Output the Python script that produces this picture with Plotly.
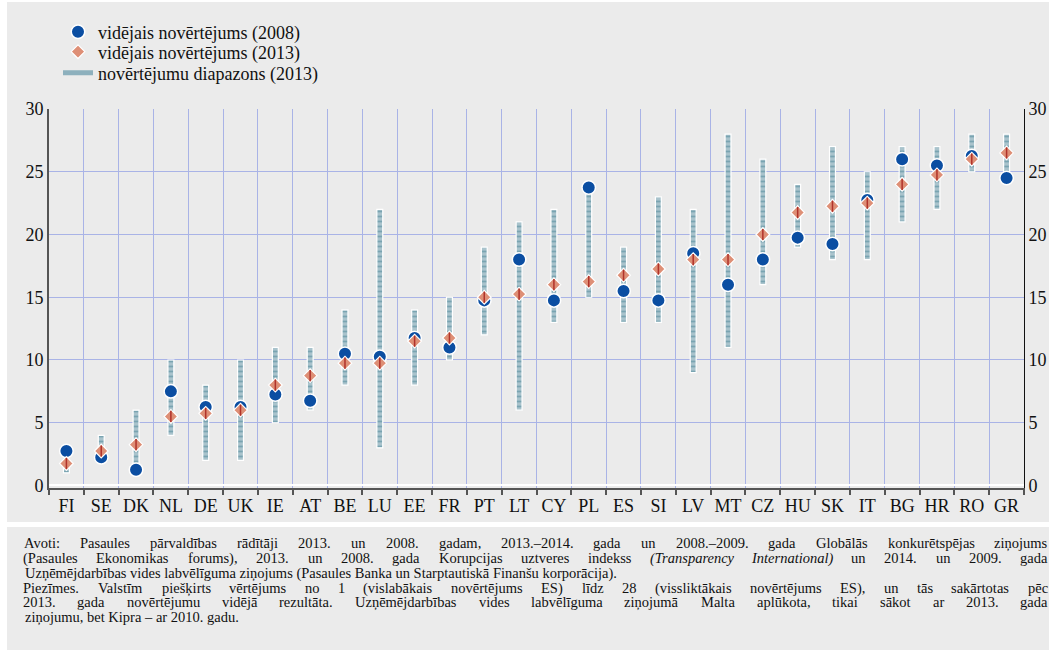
import re
import unicodedata
import plotly.graph_objects as go

countries = ["FI", "SE", "DK", "NL", "DE", "UK", "IE", "AT", "BE", "LU", "EE", "FR", "PT", "LT",
             "CY", "PL", "ES", "SI", "LV", "MT", "CZ", "HU", "SK", "IT", "BG", "HR", "RO", "GR"]
avg_2008 = [2.75, 2.25, 1.25, 7.5, 6.25, 6.25, 7.25, 6.75, 10.5, 10.25, 11.75, 11.0, 14.75, 18.0,
            14.75, 23.75, 15.5, 14.75, 18.5, 16.0, 18.0, 19.75, 19.25, 22.75, 26.0, 25.5, 26.25, 24.5]
avg_2013 = [1.75, 2.75, 3.25, 5.5, 5.75, 6.0, 8.0, 8.75, 9.75, 9.75, 11.5, 11.75, 15.0, 15.25,
            16.0, 16.25, 16.75, 17.25, 18.0, 18.0, 20.0, 21.75, 22.25, 22.5, 24.0, 24.75, 26.0, 26.5]
range_min = [1, 2, 1, 4, 2, 2, 5, 6, 8, 3, 8, 10, 12, 6,
             13, 15, 13, 13, 9, 11, 16, 19, 18, 18, 21, 22, 25, 25]
range_max = [2, 4, 6, 10, 8, 10, 11, 11, 14, 22, 14, 15, 19, 21,
             22, 24, 19, 23, 22, 28, 26, 24, 27, 25, 27, 27, 28, 28]
y_ticks = [0, 5, 10, 15, 20, 25, 30]

name_2008 = "vidējais novērtējums (2008)"
name_2013 = "vidējais novērtējums (2013)"
name_range = "novērtējumu diapazons (2013)"

footer_lines = [
    "Avoti: Pasaules pārvaldības rādītāji 2013. un 2008. gadam, 2013.–2014. gada  un 2008.–2009. gada Globālās konkurētspējas ziņojums",
    "(Pasaules Ekonomikas forums), 2013. un 2008. gada Korupcijas uztveres indekss <i>(Transparency International)</i> un 2014. un 2009. gada",
    "Uzņēmējdarbības vides labvēlīguma ziņojums (Pasaules Banka un Starptautiskā Finanšu korporācija).",
    "Piezīmes. Valstīm piešķirts vērtējums no 1 (vislabākais novērtējums ES) līdz 28 (vissliktākais novērtējums ES), un tās sakārtotas pēc",
    "2013. gada novērtējumu vidējā rezultāta. Uzņēmējdarbības vides labvēlīguma ziņojumā Malta aplūkota, tikai sākot ar 2013. gada",
    "ziņojumu, bet Kipra – ar 2010. gadu.",
]
footer_justified = [True, True, False, True, True, False]

W, H = 1049, 650
L, R, T, B = 49, 25, 109, 162
PW, PH = W - L - R, H - T - B
BG = "#ebebeb"
FONT = "Liberation Serif"
FOOT_FS = 14.5

# approximate Times / Liberation Serif advance widths (1/1000 em), used only to justify the notes
TIMES_W = {" ": 250, "!": 333, "(": 333, ")": 333, ",": 250, "-": 333, ".": 250, ":": 278, ";": 278,
           "–": 500, "A": 722, "B": 667, "C": 667, "D": 722, "E": 611, "F": 556, "G": 722, "H": 722,
           "I": 333, "J": 389, "K": 722, "L": 611, "M": 889, "N": 722, "O": 722, "P": 556, "Q": 722,
           "R": 667, "S": 556, "T": 611, "U": 722, "V": 722, "W": 944, "X": 722, "Y": 722, "Z": 611,
           "a": 444, "b": 500, "c": 444, "d": 500, "e": 444, "f": 333, "g": 500, "h": 500, "i": 278,
           "j": 278, "k": 500, "l": 278, "m": 778, "n": 500, "o": 500, "p": 500, "q": 500, "r": 333,
           "s": 389, "t": 278, "u": 500, "v": 500, "w": 722, "x": 500, "y": 500, "z": 444}


def text_width(s, fs):
    s = re.sub(r"<[^>]+>", "", s)
    tot = 0
    for ch in s:
        if ch.isdigit():
            tot += 500
            continue
        base = unicodedata.normalize("NFD", ch)[0]
        tot += TIMES_W.get(base, 500)
    return tot * fs / 1000


def px2x(px):  # page px -> paper x
    return (px - L) / PW


def py2y(py):  # page px -> paper y
    return (H - B - py) / PH


fig = go.Figure()

fig.add_trace(go.Bar(
    x=countries, y=[hi - lo for lo, hi in zip(range_min, range_max)], base=range_min,
    width=0.17, showlegend=False, hoverinfo="skip",
    marker=dict(color="#a9c3cc", line=dict(color="white", width=1.2),
                pattern=dict(shape="-", fgcolor="#4a8596", bgcolor="#a9c3cc", size=5, solidity=0.35)),
))

fig.add_trace(go.Scatter(
    x=countries, y=avg_2008, mode="markers", name=name_2008, legend="legend",
    marker=dict(symbol="circle", size=13.5, color="#0b4ea2", line=dict(color="white", width=1.5)),
))

fig.add_trace(go.Scatter(
    x=countries, y=avg_2013, mode="markers", name=name_2013, legend="legend2",
    marker=dict(symbol="diamond", size=10.5, color="#de8f76", line=dict(color="white", width=1.2)),
))

fig.add_trace(go.Scatter(
    x=countries, y=avg_2013, mode="markers", showlegend=False, hoverinfo="skip",
    marker=dict(symbol="line-ns", size=8, color="#b0322a", line=dict(color="#b0322a", width=1.5)),
))

fig.add_trace(go.Scatter(
    x=[None], y=[None], mode="lines", name=name_range, legend="legend3",
    line=dict(color="#8db0bd", width=5),
))

fig.add_trace(go.Scatter(
    x=countries, y=avg_2008, mode="markers", yaxis="y2", showlegend=False, hoverinfo="skip",
    marker=dict(opacity=0),
))

fig.add_shape(type="rect", xref="paper", yref="paper", layer="below",
              x0=px2x(7), x1=px2x(W), y0=py2y(522), y1=py2y(2),
              fillcolor=BG, line=dict(width=0))
fig.add_shape(type="rect", xref="paper", yref="paper", layer="below",
              x0=px2x(7), x1=px2x(W), y0=py2y(H), y1=py2y(527),
              fillcolor=BG, line=dict(width=0))

FOOT_X0, FOOT_X1 = 23, 1048
footer_y = [543, 558, 573, 588, 602, 617]
for txt, yy, just in zip(footer_lines, footer_y, footer_justified):
    ann_font = dict(family=FONT, size=FOOT_FS, color="#111")
    if not just:
        fig.add_annotation(text=txt, xref="paper", yref="paper", x=px2x(FOOT_X0), y=py2y(yy),
                           xanchor="left", yanchor="middle", showarrow=False, font=ann_font)
        continue
    words = txt.split()
    fixed, in_i = [], False
    for w in words:
        opened = "<i>" in w
        closed = "</i>" in w
        core = w.replace("<i>", "").replace("</i>", "")
        fixed.append("<i>" + core + "</i>" if (opened or in_i) else core)
        if opened:
            in_i = True
        if closed:
            in_i = False
    widths = [text_width(w, FOOT_FS) for w in fixed]
    gap = (FOOT_X1 - FOOT_X0 - sum(widths)) / (len(fixed) - 1)
    cx = FOOT_X0
    for w, ww in zip(fixed, widths):
        fig.add_annotation(text=w, xref="paper", yref="paper", x=px2x(cx + ww / 2), y=py2y(yy),
                           xanchor="center", yanchor="middle", showarrow=False, font=ann_font)
        cx += ww + gap

leg_common = dict(x=px2x(58), xanchor="left", yanchor="middle", bgcolor="rgba(0,0,0,0)", itemwidth=30,
                  font=dict(family=FONT, size=18, color="#111"))

fig.update_layout(
    width=W, height=H,
    margin=dict(l=L, r=R, t=T, b=B, autoexpand=False),
    paper_bgcolor="white", plot_bgcolor=BG,
    font=dict(family=FONT, size=18, color="#111"),
    showlegend=True,
    legend=dict(y=py2y(32), **leg_common),
    legend2=dict(y=py2y(52), **leg_common),
    legend3=dict(y=py2y(73), **leg_common),
    xaxis=dict(type="category", tickson="boundaries", showgrid=True, gridcolor="#a9b3e6", gridwidth=1,
               showline=True, linecolor="#555", linewidth=2, ticks="outside", ticklen=5,
               tickcolor="#555", tickwidth=1.5, tickfont=dict(size=18), tickangle=0,
               range=[-0.5, len(countries) - 0.5]),
    yaxis=dict(range=[-0.2, 30], tickvals=y_ticks, showgrid=True, gridcolor="#a9b3e6", gridwidth=1,
               zeroline=True, zerolinecolor="white", zerolinewidth=2,
               showline=True, linecolor="#555", linewidth=2, ticks="", tickfont=dict(size=18)),
    yaxis2=dict(range=[-0.2, 30], tickvals=y_ticks, overlaying="y", side="right", showgrid=False,
                zeroline=False, showline=True, linecolor="#111", linewidth=1, ticks="",
                tickfont=dict(size=18)),
)

fig.write_html("out.html", config={"displayModeBar": False},
               post_script="document.body.style.margin='0';document.body.style.overflow='hidden';")
